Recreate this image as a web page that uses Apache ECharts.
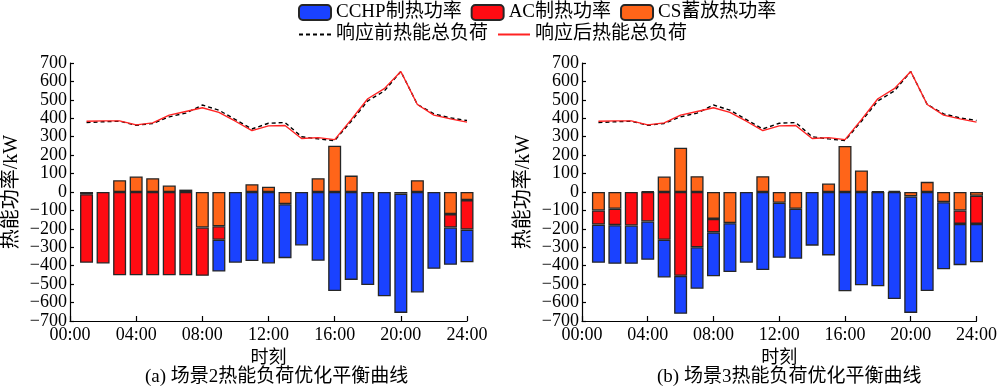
<!DOCTYPE html>
<html><head><meta charset="utf-8">
<script src="https://cdn.jsdelivr.net/npm/echarts@6/dist/echarts.min.js"></script>
<style>html,body{margin:0;padding:0;background:#fff}#c{width:1000px;height:390px}</style>
</head><body><div id="c"></div>
<script>
// time slots 00:00 .. 24:00; data start at 01:00
const timeLabels = ['00:00','01:00','02:00','03:00','04:00','05:00','06:00','07:00','08:00','09:00','10:00','11:00','12:00',
  '13:00','14:00','15:00','16:00','17:00','18:00','19:00','20:00','21:00','22:00','23:00','24:00'];
// Scenario 2 (values for 01:00 .. 24:00)
const cchpA = [0,0,0,0,0,0,0,0,-173,-384,-375,-388,-293,-290,-373,-537,-477,-505,-566,-647,-545,-417,-202,-177];
const acA   = [-372,-388,-452,-452,-452,-452,-452,-262,-73,0,0,0,0,0,0,0,0,0,0,0,0,0,-73,-160];
const csA   = [-12,0,64,84,75,35,13,-193,-186,0,42,29,-66,0,75,251,89,0,0,-9,64,0,-120,-44];
const beforeA = [377,381,384,362,372,408,428,472,444,393,342,373,377,300,288,279,384,494,548,654,475,424,402,388];
const afterA  = [384,386,386,364,375,417,437,457,432,384,333,359,361,290,295,284,393,506,561,654,475,417,397,379];
// Scenario 3
const cchpB = [-207,-210,-208,-208,-205,-206,-225,-238,-265,-384,-423,-299,-271,-291,-344,-539,-506,-512,-581,-632,-537,-364,-224,-208];
const acB   = [-77,-89,-182,-160,-259,-455,-300,-73,0,0,0,0,0,0,0,0,0,0,0,0,0,0,-73,-153];
const csB   = [-100,-91,0,3,84,240,86,-146,-169,0,86,-58,-91,0,46,250,117,4,7,-24,55,-55,-100,-20];
const beforeB = [377,381,384,362,372,408,428,472,444,393,342,373,377,300,288,279,384,494,548,654,475,424,402,388];
const afterB  = [384,386,386,364,375,417,437,457,432,384,333,359,361,290,295,284,393,506,561,654,475,417,397,379];

const names = ['CCHP制热功率','AC制热功率','CS蓄放热功率','响应前热能总负荷','响应后热能总负荷'];
const captions = ['(a) 场景2热能负荷优化平衡曲线','(b) 场景3热能负荷优化平衡曲线'];
const yName = '热能功率/kW';
const xName = '时刻';

const FONT = '"Liberation Serif","Times New Roman","Noto Sans CJK SC",serif';
const C_BLUE = '#1a42ff', C_RED = '#ff0b12', C_ORANGE = '#ff6519', BORDER = '#262626';

const pad = arr => ['-'].concat(arr.map(v => v === 0 ? '-' : v));
const padLine = arr => ['-'].concat(arr);

const grids = [
  {left: 70, top: 63, width: 397, height: 258},
  {left: 582, top: 63, width: 396, height: 258}
];
const xAxes = [], yAxes = [], series = [];
const sets = [
  {cchp: cchpA, ac: acA, cs: csA, before: beforeA, after: afterA},
  {cchp: cchpB, ac: acB, cs: csB, before: beforeB, after: afterB}
];
sets.forEach((s, gi) => {
  xAxes.push({
    type: 'category', gridIndex: gi, data: timeLabels, boundaryGap: false,
    name: xName, nameLocation: 'middle', nameGap: 28,
    nameTextStyle: {fontFamily: FONT, fontSize: 18, color: '#000'},
    axisLine: {show: true, onZero: false, lineStyle: {color: '#000', width: 1.2}},
    axisTick: {show: true, inside: true, length: 5, interval: 3, lineStyle: {color: '#000', width: 1.2}},
    axisLabel: {margin: 5, interval: 3, fontFamily: FONT, fontSize: 18, color: '#000', showMaxLabel: true},
    splitLine: {show: false}
  });
  yAxes.push({
    type: 'value', gridIndex: gi, min: -700, max: 700, interval: 100,
    name: yName, nameLocation: 'middle', nameGap: 48,
    nameTextStyle: {fontFamily: FONT, fontSize: 20, color: '#000'},
    axisLine: {show: true, lineStyle: {color: '#000', width: 1.2}},
    axisTick: {show: true, inside: true, length: 4, lineStyle: {color: '#000', width: 1.2}},
    axisLabel: {margin: 3, fontFamily: FONT, fontSize: 18, color: '#000',
      formatter: v => String(v).replace('-', '\u2212')},
    splitLine: {show: false}
  });
  const barBase = {
    type: 'bar', xAxisIndex: gi, yAxisIndex: gi, stack: 'heat' + gi, barWidth: 13,
    animation: false
  };
  series.push(Object.assign({}, barBase, {name: names[2], data: pad(s.cs),
    itemStyle: {color: C_ORANGE, borderColor: BORDER, borderWidth: 1.3}}));
  series.push(Object.assign({}, barBase, {name: names[1], data: pad(s.ac),
    itemStyle: {color: C_RED, borderColor: BORDER, borderWidth: 1.3}}));
  series.push(Object.assign({}, barBase, {name: names[0], data: pad(s.cchp),
    itemStyle: {color: C_BLUE, borderColor: BORDER, borderWidth: 1.3}}));
  series.push({type: 'line', name: names[3], xAxisIndex: gi, yAxisIndex: gi, data: padLine(s.before),
    symbol: 'none', animation: false, z: 5,
    lineStyle: {color: '#000', width: 1.4, type: [4, 3]}, itemStyle: {color: '#000'}});
  series.push({type: 'line', name: names[4], xAxisIndex: gi, yAxisIndex: gi, data: padLine(s.after),
    symbol: 'none', animation: false, z: 6,
    lineStyle: {color: '#ff2222', width: 1.4}, itemStyle: {color: '#ff2222'}});
});

const chart = echarts.init(document.getElementById('c'), null, {renderer: 'canvas'});
chart.setOption({
  backgroundColor: '#fff',
  animation: false,
  grid: grids,
  xAxis: xAxes,
  yAxis: yAxes,
  legend: [
    {data: names.slice(0, 3), left: 298, top: 3, padding: 0, itemWidth: 32, itemHeight: 15, itemGap: 9,
     textStyle: {fontFamily: FONT, fontSize: 19, color: '#000'}},
    {data: names.slice(3), left: 298, top: 25, padding: 0, itemWidth: 32, itemHeight: 15, itemGap: 9,
     itemStyle: {opacity: 0},
     textStyle: {fontFamily: FONT, fontSize: 19, color: '#000'}}
  ],
  graphic: [
    {type: 'text', left: 145, top: 368, style: {text: captions[0], font: '19px ' + FONT, fill: '#000'}},
    {type: 'text', left: 657, top: 368, style: {text: captions[1], font: '19px ' + FONT, fill: '#000'}}
  ],
  series: series
});
</script></body></html>
